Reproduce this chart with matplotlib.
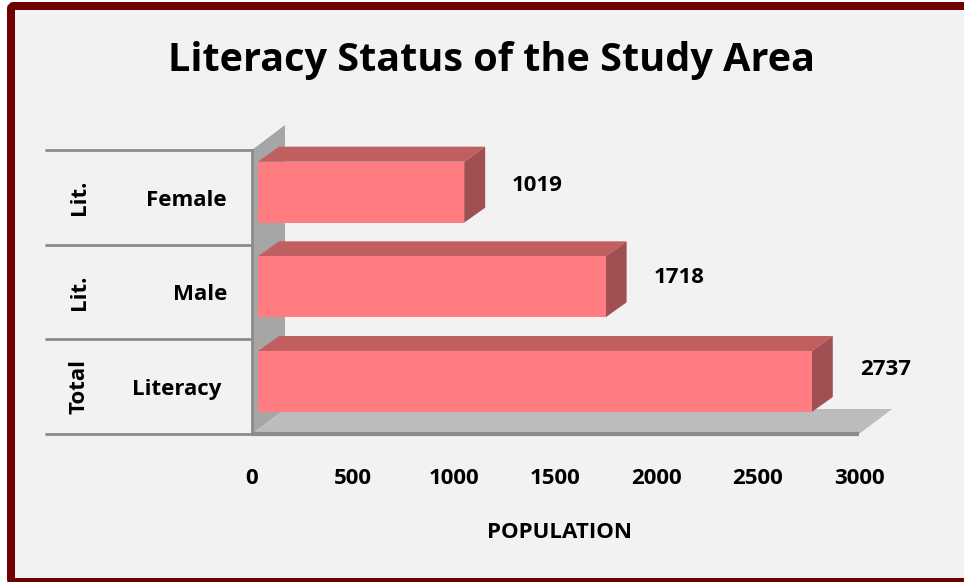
import matplotlib
matplotlib.use('Agg')
import matplotlib.pyplot as plt
from matplotlib.patches import Polygon, Rectangle, FancyBboxPatch

plt.rcParams['font.family'] = ['Open Sans', 'DejaVu Sans']
plt.rcParams['font.weight'] = 'bold'

W, H = 964, 582

title = 'Literacy Status of the Study Area'
inner_labels = ['Literacy', 'Male', 'Female']
outer_labels = ['Total', 'Lit.', 'Lit.']
values = [2737, 1718, 1019]
xticks = [0, 500, 1000, 1500, 2000, 2500, 3000]
xlabel = 'POPULATION'

fig = plt.figure(figsize=(W / 100, H / 100), dpi=100, facecolor='white')

# full figure layer, in pixels, for frame (right and bottom run off the picture)
bg = fig.add_axes([0, 0, 1, 1])
bg.set_xlim(0, W)
bg.set_ylim(H, 0)
bg.axis('off')
bg.add_patch(FancyBboxPatch((11, 6), 980, 576, boxstyle='round,pad=0,rounding_size=3',
                            fc='#f2f2f2', ec='#6e0000', lw=5.76))

# plot area: x 252-859 px, y 150-434 px
ax = fig.add_axes([252 / W, 1 - 434 / H, 607 / W, 284 / H])
ax.set_xlim(0, 3000)
ax.set_ylim(0, 3)
ax.axis('off')

px = 3000 / 607
py = 3 / 284
dx, dy = 33 * px, 25 * py  # wall/floor depth
bx, by = 21 * px, 15 * py  # bar depth
sx = 6 * px                # bars start off the wall
bar_h = 61 * py
bar_y0 = 22 * py           # bottom of bar front above floor front edge
label_up = [12, 9, 7]
fs = 16

# wall
ax.add_patch(Polygon([(0, 0), (dx, dy), (dx, 3 + dy), (0, 3)], fc='#a6a6a6', ec='none', clip_on=False))
ax.plot([0, 0], [0, 3], color='#8c8c8c', lw=2, clip_on=False)
# floor
ax.add_patch(Polygon([(0, 0), (3000, 0), (3000 + dx, dy), (dx, dy)], fc='#bcbcbc', ec='none', clip_on=False))
ax.plot([0, 3000], [0, 0], color='#8c8c8c', lw=3, clip_on=False, solid_capstyle='butt')

for i, v in enumerate(values):
    y0 = i + bar_y0
    y1 = y0 + bar_h
    x0 = sx
    x1 = sx + v
    ax.add_patch(Polygon([(x0, y1), (x1, y1), (x1 + bx, y1 + by), (x0 + bx, y1 + by)],
                         fc='#c05f60', ec='none', clip_on=False, zorder=3))
    ax.add_patch(Polygon([(x1, y0), (x1 + bx, y0 + by), (x1 + bx, y1 + by), (x1, y1)],
                         fc='#a05052', ec='none', clip_on=False, zorder=3))
    ax.add_patch(Rectangle((x0, y0), v, bar_h, fc='#ff7c80', ec='none', clip_on=False, zorder=3))
    ax.text(x1 + 48 * px, y0 + bar_h / 2 + label_up[i] * py, str(v), fontsize=fs,
            ha='left', va='center', color='black')

# separators of the two level axis
for i in range(4):
    ax.plot([-207 * px, 0], [i, i], color='#8c8c8c', lw=2, clip_on=False, solid_capstyle='butt')

inner_x = [-75 * px, -25 * px, -25 * px]
inner_ha = ['center', 'right', 'right']
for i in range(3):
    ax.text(inner_x[i], i + 0.5 - 3 * py, inner_labels[i], fontsize=fs, ha=inner_ha[i], va='center')
    ax.text(-173 * px, i + 0.5, outer_labels[i], fontsize=fs, rotation=90, ha='center', va='center')

for t in xticks:
    ax.text(t, -45 * py, str(t), fontsize=fs, ha='center', va='center')
ax.text(1500 + 4 * px, -98 * py, xlabel, fontsize=fs, ha='center', va='center')

bg.text(491, 61, title, fontsize=28.5, ha='center', va='center')

fig.savefig('out.png', dpi=100)
